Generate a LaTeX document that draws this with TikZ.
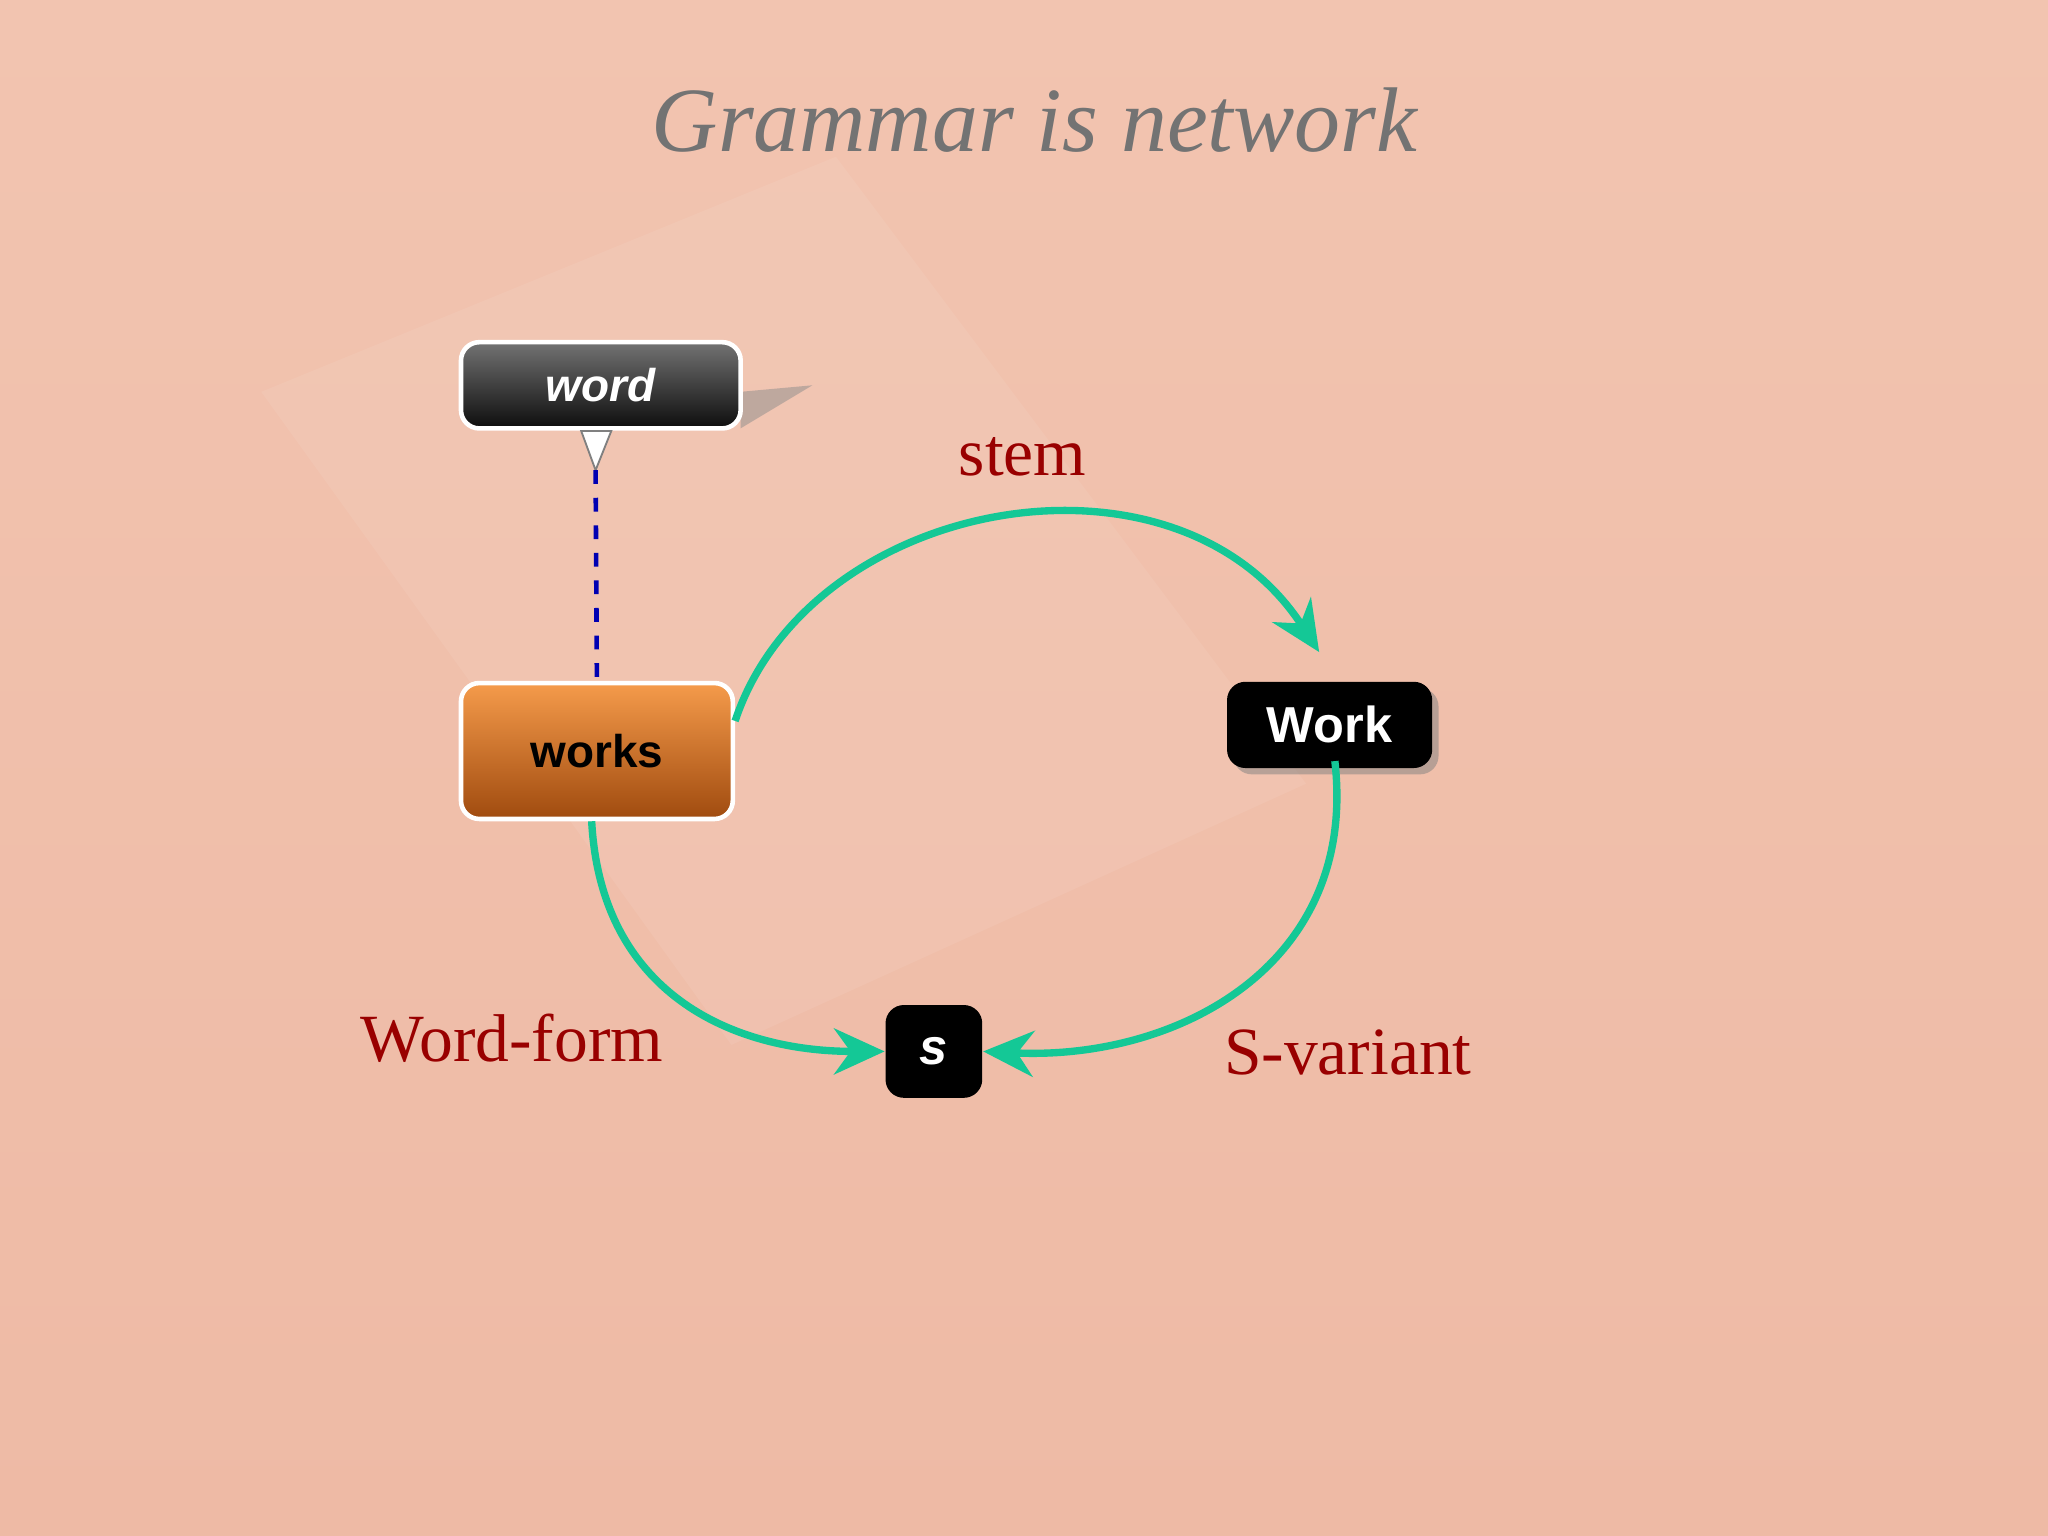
\documentclass[tikz,border=0pt]{standalone}
\usepackage{fontspec}
\setmainfont{Liberation Serif}
\setsansfont{Liberation Sans}
\usetikzlibrary{arrows.meta,shadows}
\begin{document}
\begin{tikzpicture}[x=0.01cm,y=-0.01cm,
  lbl/.style={text=red!60!black,font=\fontsize{14.7}{18}\selectfont},
  arc/.style={draw={rgb,255:red,20;green,200;blue,150},line width=1.6pt,-{Stealth[length=11pt,width=10pt]}},
  boxw/.style={rounded corners=4pt,draw=white,line width=1pt,font=\sffamily\bfseries\fontsize{10}{12}\selectfont,inner sep=0pt}]
\useasboundingbox (0,0) rectangle (1568,1176);
\shade[top color={rgb,255:red,242;green,196;blue,176},bottom color={rgb,255:red,238;green,186;blue,165}] (0,0) rectangle (1568,1176);
\fill[white,opacity=0.07] (200,300) -- (640,120) -- (1000,600) -- (560,800) -- cycle;
\node (title) at (792,92) {\color{black!55}\itshape\fontsize{20}{24}\selectfont Grammar is network};
\fill[black!45,opacity=0.5] (567,300) -- (622,295) -- (567,328) -- cycle;
\node[boxw,minimum width=2.14cm,minimum height=0.66cm,top color=black!55,bottom color=black!95,text=white] (word) at (460,295) {\itshape word};
\fill[white,draw=black!50] (445,330) -- (468,330) -- (456,360) -- cycle;
\coordinate (tip) at (456,360);
\node[boxw,minimum width=2.08cm,minimum height=1.04cm,top color={rgb,255:red,245;green,155;blue,75},bottom color={rgb,255:red,160;green,75;blue,15},text=black] (works) at (457,575) {works};
\node[rounded corners=4pt,fill=black,minimum width=1.57cm,minimum height=0.66cm,inner sep=0pt,text=white,font=\sffamily\bfseries\fontsize{11}{13}\selectfont,drop shadow={shadow xshift=0.3ex,shadow yshift=-0.3ex}] (Work) at (1018,555) {Work};
\node[rounded corners=4pt,fill=black,minimum width=0.74cm,minimum height=0.71cm,inner sep=0pt,text=white,font=\sffamily\bfseries\itshape\fontsize{11}{13}\selectfont] (s) at (715,805) {s};
\draw[blue!70!black,dashed,line width=1pt] (tip) -- (works.north);
\draw[arc] ([yshift=0.23cm]works.east) .. controls (620,380) and (900,330) .. ([xshift=-0.08cm,yshift=0.22cm]Work.north);
\draw[arc] ([xshift=-0.04cm]works.south) .. controls (460,760) and (560,805) .. (s.west);
\draw[arc] ([xshift=0.04cm,yshift=0.06cm]Work.south) .. controls (1040,740) and (900,812) .. (s.east);
\node[lbl] (stem) at (783,350) {stem};
\node[lbl] (wf) at (392,795) {Word-form};
\node[lbl] (sv) at (1032,806) {S-variant};
\end{tikzpicture}
\end{document}
